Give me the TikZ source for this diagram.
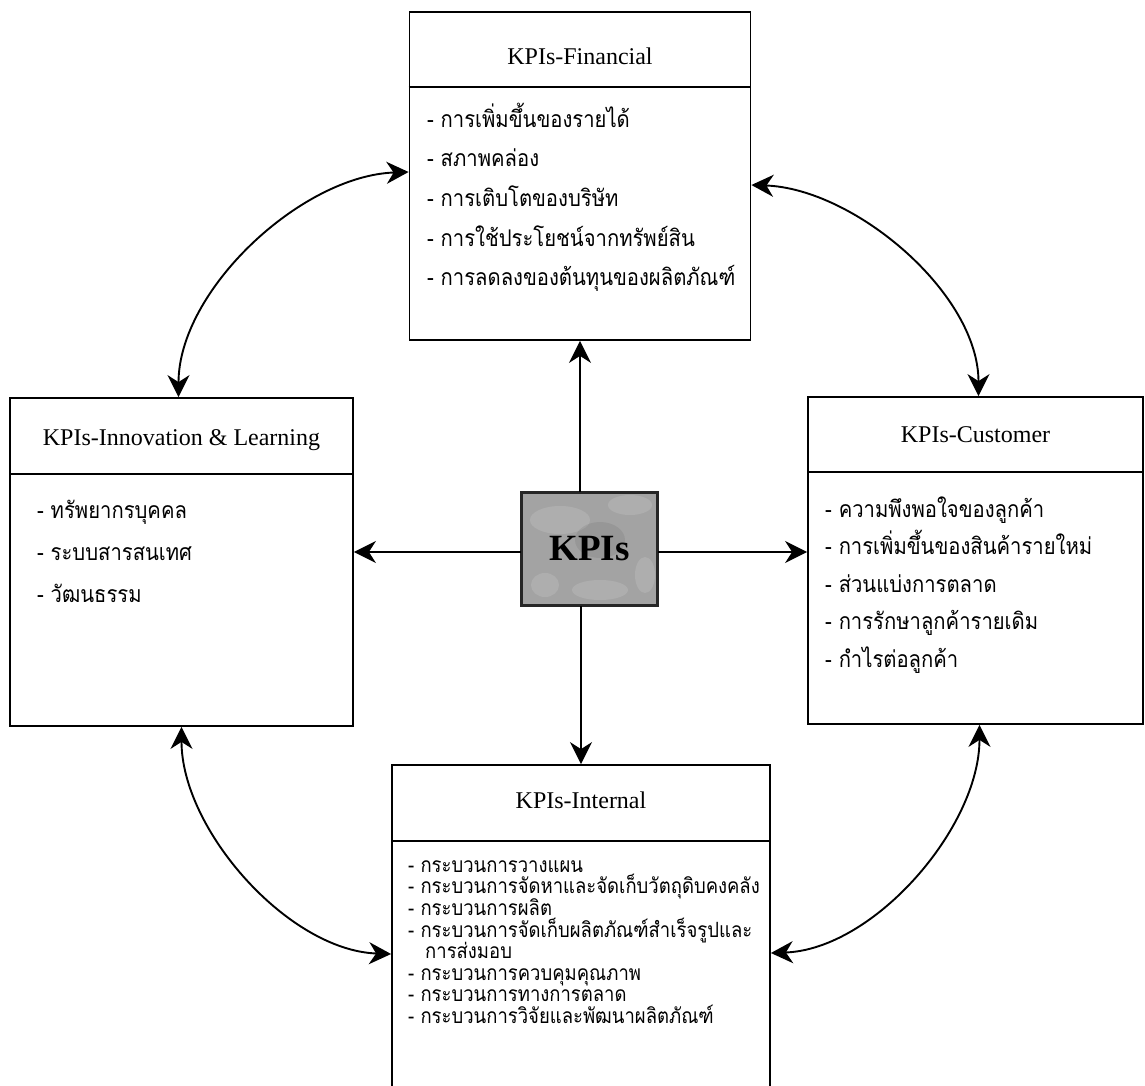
\documentclass[tikz,border=0pt]{standalone}
\usepackage{fontspec}
\setmainfont{Liberation Serif}
\newfontfamily\thai[Script=Thai,FakeStretch=0.88]{Loma}
\usetikzlibrary{arrows.meta,calc}
\tikzset{
  box/.style={draw, line width=1.8pt, fill=white, inner sep=0pt},
  divider/.style={line width=1.8pt},
  arr/.style={line width=1.9pt, -{Stealth[length=22pt,width=22pt,inset=7pt]}},
  darr/.style={line width=1.9pt, {Stealth[length=22pt,width=22pt,inset=7pt]}-{Stealth[length=22pt,width=22pt,inset=7pt]}},
  head/.style={anchor=base, font=\fontsize{24}{28}\selectfont, inner sep=0pt},
  item/.style={anchor=base west, font=\thai\fontsize{23}{26}\selectfont, inner sep=0pt},
  sitem/.style={anchor=base west, font=\thai\fontsize{21}{22}\selectfont, inner sep=0pt},
  kpibox/.style={draw=black!85, line width=2.4pt, fill=black!36, minimum width=135pt, minimum height=112pt,
    inner sep=0pt},
  mottle/.style={white, opacity=0.13}
}
\begin{document}
\begin{tikzpicture}[x=1pt,y=-1pt]
\clip (0,0) rectangle (1145,1086);
\fill[white] (0,0) rectangle (1145,1086);
% boxes
\node[box, minimum width=341pt, minimum height=328pt] (fin) at (580,176) {};
\node[box, minimum width=343pt, minimum height=328pt] (inn) at (181.5,562) {};
\node[box, minimum width=335pt, minimum height=327pt] (cus) at (975.5,560.5) {};
\node[box, minimum width=378pt, minimum height=378pt] (int) at (581,954) {};
\draw[divider] ([yshift=-76pt]fin.north west) -- ([yshift=-76pt]fin.north east);
\draw[divider] ([yshift=-77pt]inn.north west) -- ([yshift=-77pt]inn.north east);
\draw[divider] ([yshift=-76pt]cus.north west) -- ([yshift=-76pt]cus.north east);
\draw[divider] ([yshift=-77pt]int.north west) -- ([yshift=-77pt]int.north east);
% centre
\node[kpibox] (kpi) at (589.5,549) {};
\begin{scope}
\clip (kpi.south west) rectangle (kpi.north east);
\fill[mottle] (560,520) ellipse (30 and 14);
\fill[mottle] (630,505) ellipse (22 and 10);
\fill[mottle] (600,590) ellipse (28 and 10);
\fill[mottle] (545,585) ellipse (14 and 12);
\fill[mottle] (645,575) ellipse (10 and 18);
\fill[black, opacity=0.07] (600,540) ellipse (25 and 18);
\end{scope}
\draw[draw=black!85, line width=2.4pt] (kpi.south west) rectangle (kpi.north east);
\node[font=\bfseries\fontsize{37}{40}\selectfont, inner sep=0pt] (kpit) at (kpi.center) {KPIs};
% headers
\node[head] (hfin) at (580,65) {KPIs-Financial};
\node[head] (hinn) at (181.5,445) {KPIs-Innovation \& Learning};
\node[head] (hcus) at (975.5,442) {KPIs-Customer};
\node[head] (hint) at (581,808) {KPIs-Internal};
% financial items
\node[item] (f1) at (427,128) {- การเพิ่มขึ้นของรายได้};
\node[item] (f2) at (427,167) {- สภาพคล่อง};
\node[item] (f3) at (427,206) {- การเติบโตของบริษัท};
\node[item] (f4) at (427,246) {- การใช้ประโยชน์จากทรัพย์สิน};
\node[item] (f5) at (427,285) {- การลดลงของต้นทุนของผลิตภัณฑ์};
% innovation items
\node[item] (i1) at (37,518) {- ทรัพยากรบุคคล};
\node[item] (i2) at (37,560) {- ระบบสารสนเทศ};
\node[item] (i3) at (37,602) {- วัฒนธรรม};
% customer items
\node[item] (c1) at (825,517) {- ความพึงพอใจของลูกค้า};
\node[item] (c2) at (825,554) {- การเพิ่มขึ้นของสินค้ารายใหม่};
\node[item] (c3) at (825,592) {- ส่วนแบ่งการตลาด};
\node[item] (c4) at (825,629) {- การรักษาลูกค้ารายเดิม};
\node[item] (c5) at (825,667) {- กำไรต่อลูกค้า};
% internal items
\node[sitem] (n1) at (408,872) {- กระบวนการวางแผน};
\node[sitem] (n2) at (408,893) {- กระบวนการจัดหาและจัดเก็บวัตถุดิบคงคลัง};
\node[sitem] (n3) at (408,915) {- กระบวนการผลิต};
\node[sitem] (n4) at (408,937) {- กระบวนการจัดเก็บผลิตภัณฑ์สำเร็จรูปและ};
\node[sitem] (n4b) at (425,958) {การส่งมอบ};
\node[sitem] (n5) at (408,980) {- กระบวนการควบคุมคุณภาพ};
\node[sitem] (n6) at (408,1001) {- กระบวนการทางการตลาด};
\node[sitem] (n7) at (408,1023) {- กระบวนการวิจัยและพัฒนาผลิตภัณฑ์};
% straight arrows
\draw[arr] (kpi.north -| fin.south) -- (fin.south);
\draw[arr] (kpi.south -| int.north) -- (int.north);
\draw[arr] ([yshift=-3pt]kpi.west) -- ([yshift=-3pt]kpi.west -| inn.east);
\draw[arr] ([yshift=-3pt]kpi.east) -- ([yshift=-3pt]kpi.east -| cus.west);
% curved arrows
\draw[darr] ([xshift=-3pt]inn.north) to[out=90,in=182,looseness=0.85] ([yshift=4pt]fin.west);
\draw[darr] ([yshift=-9pt]fin.east) to[out=-2,in=90,looseness=0.85] ([xshift=3pt]cus.north);
\draw[darr] (inn.south) to[out=-90,in=178,looseness=0.85] (int.west);
\draw[darr] ([xshift=4pt]cus.south) to[out=-90,in=2,looseness=0.85] ([yshift=1pt]int.east);
\end{tikzpicture}
\end{document}
